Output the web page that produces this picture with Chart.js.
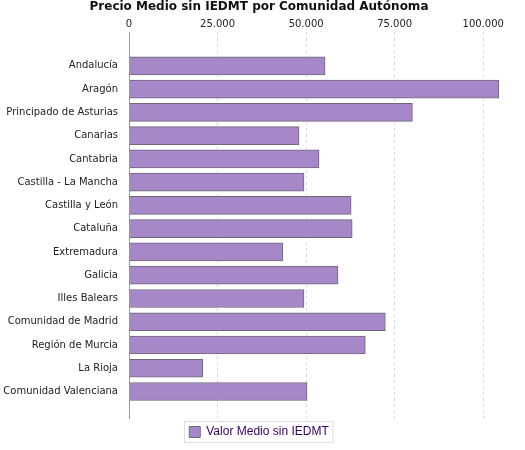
<!DOCTYPE html>
<html lang="es">
<head>
  <meta charset="UTF-8" />
  <title>Precio Medio sin IEDMT</title>
  <script src="https://cdn.jsdelivr.net/npm/chart.js"></script>
  <style>
    body { margin: 0; background: #fff; }
    #wrap { width: 525px; height: 450px; }
  </style>
</head>
<body>
<div id="wrap"><canvas id="c"></canvas></div>
<script>
  const regions = ['Andalucía', 'Aragón', 'Principado de Asturias', 'Canarias', 'Cantabria',
    'Castilla - La Mancha', 'Castilla y León', 'Cataluña', 'Extremadura', 'Galicia',
    'Illes Balears', 'Comunidad de Madrid', 'Región de Murcia', 'La Rioja', 'Comunidad Valenciana'];
  const avgPrice = [55350, 104400, 80000, 48000, 53650, 49400, 62700, 63000, 43450, 59000,
    49400, 72350, 66700, 20800, 50250];
  const xTicks = [0, 25000, 50000, 75000, 100000];

  const font = { family: 'DejaVu Sans', size: 10 };

  // border around the legend, like the original
  const legendBox = {
    id: 'legendBox',
    afterDraw(chart) {
      const hb = chart.legend.legendHitBoxes[0];
      if (!hb) return;
      const ctx = chart.ctx;
      ctx.save();
      ctx.strokeStyle = '#dddddd';
      ctx.strokeRect(Math.round(hb.left) - 4.5, Math.round(hb.top) - 4.5, hb.width + 9, hb.height + 9);
      ctx.restore();
    }
  };

  new Chart(document.getElementById('c'), {
    type: 'bar',
    data: {
      datasets: [{
        label: 'Valor Medio sin IEDMT',
        data: avgPrice.map((v, i) => ({ x: v, y: i })),
        backgroundColor: '#a688c8',
        borderColor: '#6e6878',
        borderWidth: 1,
        barThickness: 18
      }]
    },
    options: {
      indexAxis: 'y',
      responsive: true,
      maintainAspectRatio: false,
      animation: false,
      layout: { padding: { left: 0, right: 7, top: 0, bottom: 2 } },
      scales: {
        x: {
          position: 'top',
          min: 0, max: 109800,
          afterBuildTicks(s) { s.ticks = xTicks.map(v => ({ value: v })); },
          ticks: {
            font, color: '#222', padding: 2,
            callback: v => v.toLocaleString('de-DE')
          },
          grid: { color: '#d8d8d8', tickLength: 0, drawTicks: false },
          border: { display: false, dash: [3, 3] }
        },
        y: {
          type: 'linear',
          reverse: true,
          offset: false,
          min: -1.44, max: 15.14,
          afterBuildTicks(s) { s.ticks = regions.map((_, i) => ({ value: i })); },
          afterFit(s) { s.width = 129; },
          ticks: {
            font, color: '#222', autoSkip: false,
            callback: v => regions[v] || ''
          },
          grid: { display: false },
          border: { color: '#999' }
        }
      },
      plugins: {
        title: {
          display: true,
          text: 'Precio Medio sin IEDMT por Comunidad Autónoma',
          font: { family: 'DejaVu Sans', size: 12, weight: 'bold' },
          color: '#111',
          padding: { top: 0, bottom: 2 }
        },
        legend: {
          position: 'bottom',
          labels: {
            font: { family: 'Liberation Sans', size: 12 },
            color: '#330066',
            boxWidth: 11, boxHeight: 11, padding: 8
          }
        },
        tooltip: { enabled: false }
      }
    },
    plugins: [legendBox]
  });
</script>
</body>
</html>
